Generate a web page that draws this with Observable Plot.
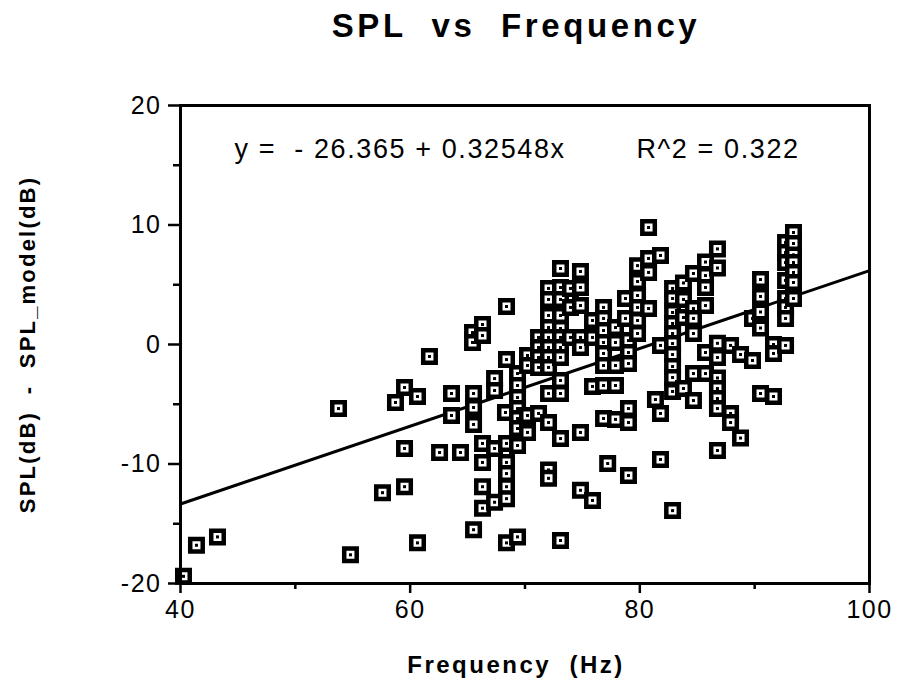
<!DOCTYPE html>
<html><head><meta charset="utf-8">
<script src="https://cdn.jsdelivr.net/npm/d3@7"></script>
<script src="https://cdn.jsdelivr.net/npm/@observablehq/plot@0.6"></script>
<style>
body{margin:0;background:#fff;width:901px;height:690px;overflow:hidden;font-family:"Liberation Sans",Arial,sans-serif}
#title{height:70px;position:relative}
#title span{position:absolute;left:516px;top:9px;transform:translateX(-50%);font-weight:bold;font-size:33px;line-height:1;letter-spacing:3.6px;white-space:pre;color:#000}
</style></head><body>
<div id="title"><span>SPL  vs  Frequency</span></div>
<div id="chart"></div>
<script>
// Frequency columns (Hz) and the residuals (dB) read at each column
const freqs = [40.26, 41.39, 43.22, 53.76, 54.80, 57.59, 58.72, 59.51, 60.64, 61.68,
  62.56, 63.60, 64.38, 65.43, 65.52, 66.30, 67.35, 68.30, 68.39, 69.35,
  70.22, 71.18, 72.05, 73.09, 73.96, 74.83, 75.88, 76.84, 77.20, 77.88,
  78.75, 79.01, 79.80, 80.76, 81.36, 81.80, 82.85, 83.80, 84.67, 85.72,
  86.76, 87.90, 88.77, 89.81, 90.51, 91.64, 92.69, 93.38];
const residuals = [
  [-19.4], [-16.8], [-16.1], [-5.36], [-17.6], [-12.4], [-4.85],
  [-3.6, -8.7, -11.9],
  [-4.35, -16.6],
  [-1.0],
  [-9.04],
  [-4.1, -5.94],
  [-9.04],
  [1.0, 0.17],
  [-4.1, -5.27, -6.69, -15.5],
  [1.67, 0.75, -8.28, -9.87, -11.9, -13.7],
  [-2.85, -3.85, -8.7, -13.2],
  [-5.69],
  [3.18, -1.26, -8.28, -9.87, -10.8, -11.9, -12.9, -16.6],
  [-2.43, -3.43, -4.44, -5.36, -6.19, -7.03, -8.45, -16.1],
  [-0.92, -1.76, -5.94, -7.36],
  [0.59, -0.25, -1.09, -1.92, -5.77],
  [4.69, 3.77, 2.43, 1.42, 0.59, -0.25, -1.09, -1.92, -4.1, -6.53, -10.5, -11.2],
  [6.36, 4.77, 3.77, 2.43, 1.34, 0.59, -0.25, -1.09, -3.01, -4.1, -7.87, -16.4],
  [4.69, 3.10, 0.59],
  [6.11, 4.77, 3.26, 0.59, -0.25, -7.36, -12.2],
  [2.01, 0.59, -3.51, -13.05],
  [3.10, 2.18, 1.17, 0.17, -0.75, -1.76, -3.43, -6.19],
  [-9.96],
  [1.42, 0.17, -1.76, -3.43, -6.27],
  [3.85, 2.18],
  [0.33, -0.67, -1.59, -5.36, -6.53, -10.96],
  [6.6, 5.27, 4.1, 3.10, 2.01, 0.92],
  [9.79, 7.2, 6.03, 3.01],
  [-4.6],
  [7.45, -0.08, -5.77, -9.62],
  [4.69, 3.85, 2.68, 1.76, 0.92, 0.08, -0.84, -1.84, -2.76, -3.93, -13.9],
  [5.15, 3.77, 2.26, -3.68],
  [5.94, 3.01, 2.18, 0.92, -2.43, -4.69],
  [6.9, 5.77, 4.77, 3.26, -0.67, -2.43],
  [8.0, 6.4, 0.1, -1.09, -2.8, -3.68, -4.52, -5.36, -8.87],
  [-0.08, -5.77, -6.53],
  [-0.84, -7.83],
  [2.18, -1.34],
  [5.44, 4.02, 2.72, 1.38, -4.1],
  [0.0, -0.75, -4.35],
  [8.54, 7.7, 6.86, 5.36, 3.85, 3.10, 2.18, -0.08],
  [9.37, 8.45, 7.5, 6.86, 6.03, 5.19, 3.85]
];
// Fitted line printed on the chart
const fitIntercept = -26.365;
const fitSlope = 0.32548;
const equationText = "y =  - 26.365 + 0.32548x";
const r2Text = "R^2 = 0.322";
const xTicks = [40, 60, 80, 100];
const xMinorTicks = [50, 70, 90];
const yTicks = [-20, -10, 0, 10, 20];
const yMinorTicks = [-15, -5, 5, 15];
const xDomain = [40, 100];
const yDomain = [-20, 20];

const points = freqs.flatMap((f, i) => residuals[i].map(v => ({f, v})));
const fitLine = xDomain.map(x => ({x, y: fitIntercept + fitSlope * x}));

const chart = Plot.plot({
  width: 901, height: 620,
  marginLeft: 180, marginRight: 32, marginTop: 35, marginBottom: 107,
  style: {fontFamily: "Liberation Sans, Arial, sans-serif", background: "white", color: "black", overflow: "visible"},
  x: {domain: xDomain},
  y: {domain: yDomain},
  marks: [
    Plot.axisX({ticks: xTicks, tickSize: 10, tickPadding: 7, fontSize: 25, label: null, strokeWidth: 2.5, tickFormat: d => String(d)}),
    Plot.axisX({ticks: xMinorTicks, tickSize: 6, text: null, label: null, strokeWidth: 2.5}),
    Plot.axisY({ticks: yTicks, tickSize: 12, tickPadding: 7, fontSize: 25, label: null, strokeWidth: 2.5, tickFormat: d => String(d)}),
    Plot.axisY({ticks: yMinorTicks, tickSize: 7, text: null, label: null, strokeWidth: 2.5}),
    Plot.line(fitLine, {x: "x", y: "y", stroke: "black", strokeWidth: 3}),
    Plot.dot(points, {x: "f", y: "v", symbol: "square", r: 7.05, fill: "white", stroke: "black", strokeWidth: 4.5}),
    Plot.dot(points, {x: "f", y: "v", symbol: "square", r: 1.7, fill: "black", stroke: "none"}),
    Plot.frame({stroke: "black", strokeWidth: 3}),
    Plot.text([equationText], {frameAnchor: "top-left", dx: 54, dy: 33, fontSize: 27, lineAnchor: "top", textAnchor: "start", fill: "black"}),
    Plot.text([r2Text], {frameAnchor: "top-left", dx: 456, dy: 33, fontSize: 27, lineAnchor: "top", textAnchor: "start", fill: "black"}),
    Plot.text(["Frequency  (Hz)"], {frameAnchor: "bottom", dx: -9, dy: 82, fontSize: 24, fontWeight: "bold", lineAnchor: "middle", textAnchor: "middle", fill: "black"}),
    Plot.text(["SPL(dB)  -  SPL_model(dB)"], {frameAnchor: "left", dx: -153, dy: 0, rotate: -90, fontSize: 22, fontWeight: "bold", lineAnchor: "middle", textAnchor: "middle", fill: "black"})
  ]
});
chart.querySelectorAll("text").forEach(t => { t.style.whiteSpace = "pre"; });
d3.select(chart).selectAll("g[aria-label='x-axis tick label'] text, g[aria-label='y-axis tick label'] text").attr("letter-spacing", 1.5);
d3.select(chart).selectAll("g[aria-label='text'] text").each(function() {
  const s = this.textContent;
  if (s.startsWith("Frequency")) this.setAttribute("letter-spacing", 2.5);
  else if (s.startsWith("SPL")) this.setAttribute("letter-spacing", 2.2);
  else this.setAttribute("letter-spacing", 1.6);
});
document.getElementById("chart").appendChild(chart);
</script>
</body></html>
